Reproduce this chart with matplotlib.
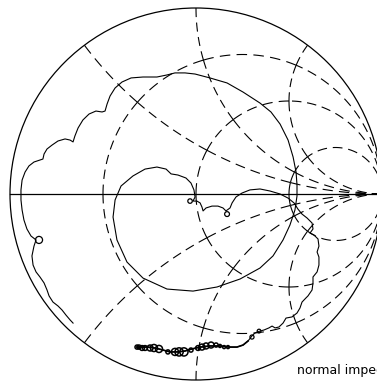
import numpy as np
import matplotlib
matplotlib.use('Agg')
import matplotlib.pyplot as plt
from matplotlib.patches import Circle

# ─── GRID VALUES (normalised resistance / reactance) ─────────────────────
R_VALUES = [1/3, 1.0, 3.0]
X_VALUES = [0.5, 1.0, 2.0]

# ─── MEASURED LOCUS (reflection coefficient, real / imag) ────────────────
gamma_re = [-0.661, -0.677, -0.699, -0.720, -0.742, -0.769, -0.790, -0.801, -0.817, -0.839,
            -0.860, -0.876, -0.882, -0.871, -0.860, -0.887, -0.909, -0.925, -0.935, -0.941,
            -0.941, -0.935, -0.919, -0.898, -0.871, -0.839, -0.823, -0.817, -0.801, -0.774,
            -0.742, -0.704, -0.677, -0.661, -0.651, -0.634, -0.608, -0.575, -0.538, -0.505,
            -0.489, -0.478, -0.462, -0.435, -0.398, -0.349, -0.285, -0.210, -0.156, -0.113,
            -0.059, -0.005, 0.075, 0.167, 0.253, 0.344, 0.403, 0.452, 0.495, 0.522,
            0.538, 0.543, 0.543, 0.532, 0.505, 0.468, 0.414, 0.344, 0.237, 0.113,
            -0.016, -0.156, -0.285, -0.371, -0.425, -0.446, -0.435, -0.403, -0.339, -0.274,
            -0.210, -0.161, -0.134, -0.097, -0.054, -0.027, -0.011, -0.005, -0.016, 0.005,
            0.022, 0.032, 0.038, 0.054, 0.086, 0.118, 0.145, 0.161, 0.183, 0.194,
            0.215, 0.247, 0.290, 0.344, 0.398, 0.452, 0.495, 0.527, 0.548, 0.570,
            0.597, 0.624, 0.629, 0.613, 0.634, 0.656, 0.661, 0.651, 0.661, 0.661,
            0.651, 0.629, 0.629, 0.624, 0.602, 0.591, 0.570, 0.559, 0.543, 0.516,
            0.484, 0.468, 0.446, 0.425, 0.409, 0.392, 0.366, 0.344, 0.317, 0.301,
            0.280, 0.253, 0.220, 0.183, 0.129, 0.075, 0.022, -0.022, -0.059, -0.097,
            -0.140, -0.177, -0.220, -0.258, -0.317]
gamma_im = [-0.694, -0.677, -0.651, -0.624, -0.602, -0.581, -0.548, -0.516, -0.478, -0.446,
            -0.419, -0.382, -0.333, -0.280, -0.247, -0.226, -0.188, -0.140, -0.086, -0.032,
            0.022, 0.075, 0.118, 0.151, 0.172, 0.183, 0.188, 0.215, 0.242, 0.263,
            0.285, 0.296, 0.290, 0.280, 0.312, 0.355, 0.398, 0.430, 0.446, 0.441,
            0.446, 0.484, 0.527, 0.570, 0.602, 0.624, 0.629, 0.629, 0.640, 0.651,
            0.651, 0.645, 0.624, 0.597, 0.548, 0.489, 0.441, 0.376, 0.290, 0.199,
            0.118, 0.048, -0.011, -0.086, -0.167, -0.247, -0.333, -0.398, -0.457, -0.500,
            -0.522, -0.511, -0.452, -0.366, -0.247, -0.124, -0.032, 0.043, 0.097, 0.134,
            0.145, 0.134, 0.108, 0.102, 0.086, 0.059, 0.022, -0.016, -0.038, -0.038,
            -0.048, -0.070, -0.091, -0.075, -0.065, -0.065, -0.075, -0.091, -0.075, -0.048,
            -0.016, 0.005, 0.022, 0.027, 0.016, 0.000, -0.022, -0.048, -0.081, -0.108,
            -0.129, -0.156, -0.188, -0.210, -0.220, -0.242, -0.280, -0.312, -0.339, -0.382,
            -0.419, -0.446, -0.478, -0.516, -0.548, -0.559, -0.581, -0.613, -0.640, -0.661,
            -0.667, -0.694, -0.715, -0.720, -0.710, -0.720, -0.731, -0.737, -0.747, -0.763,
            -0.790, -0.812, -0.823, -0.823, -0.817, -0.817, -0.823, -0.833, -0.844, -0.849,
            -0.849, -0.839, -0.828, -0.823, -0.823]

# small resonance loops along the locus: centre and radius
loop_re = [-0.844, -0.032, 0.167, 0.339, 0.301,
           0.172, 0.151, 0.129, 0.108, 0.081, 0.054, 0.032, 0.011, -0.027,
           -0.065, -0.091, -0.113, -0.151, -0.199, -0.226, -0.247,
           -0.274, -0.290, -0.306, -0.317]
loop_im = [-0.247, -0.038, -0.108, -0.737, -0.769,
           -0.823, -0.823, -0.817, -0.812, -0.812, -0.817, -0.823, -0.828, -0.839,
           -0.849, -0.849, -0.849, -0.849, -0.833, -0.828, -0.828,
           -0.828, -0.828, -0.823, -0.823]
loop_rad = [0.019, 0.012, 0.013, 0.010, 0.011,
            0.008, 0.008, 0.008, 0.011, 0.016, 0.016, 0.016, 0.013, 0.011,
            0.022, 0.022, 0.019, 0.011, 0.019, 0.019, 0.016,
            0.013, 0.013, 0.011, 0.011]

LABEL = "normal impedance"

PX_PER_UNIT = 186.0      # figure pixels per unit of |Gamma|
DASH_PX, GAP_PX = 10.0, 6.0
GRID_LW = 0.8


def gamma(z):
    return (z - 1) / (z + 1)


def dashed_arc(ax, centre, rad, a, b):
    # stretch the dash pattern so the arc both starts and ends on a dash,
    # which leaves a small solid cross at every grid crossing
    length = abs(b - a) * rad * PX_PER_UNIT
    phi = np.linspace(a, b, 120)
    pts = centre + rad * np.exp(1j * phi)
    n = int(round((length - DASH_PX) / (DASH_PX + GAP_PX)))
    if n < 1:
        ax.plot(pts.real, pts.imag, color='black', lw=GRID_LW, solid_capstyle='butt')
        return
    k = length / (n * (DASH_PX + GAP_PX) + DASH_PX)
    to_lw = 0.72 / GRID_LW
    ax.plot(pts.real, pts.imag, color='black', lw=GRID_LW,
            dashes=(DASH_PX * k * to_lw, GAP_PX * k * to_lw), dash_capstyle='butt')


fig = plt.figure(figsize=(3.77, 3.85), dpi=100)
ax = fig.add_axes([0, 0, 1, 1])
ax.set_xlim(-196 / PX_PER_UNIT, 181 / PX_PER_UNIT)
ax.set_ylim(-191 / PX_PER_UNIT, 194 / PX_PER_UNIT)
ax.axis('off')

# ─── constant resistance circles ──────────────────────────────────────────
xs = sorted([v for v in X_VALUES] + [-v for v in X_VALUES] + [0.0], reverse=True)
for r in R_VALUES:
    c = r / (1 + r)
    rad = 1 / (1 + r)
    angs = [0.0]
    for x in xs:
        angs.append(np.mod(np.angle(gamma(r + 1j * x) - c), 2 * np.pi))
    angs.append(2 * np.pi)
    for a, b in zip(angs[:-1], angs[1:]):
        dashed_arc(ax, c, rad, a, b)

# ─── constant reactance arcs ──────────────────────────────────────────────
rs = [0.0] + R_VALUES
for x in X_VALUES:
    for sgn in (1, -1):
        c = 1 + 1j * sgn / x
        rad = 1 / x
        angs = [np.mod(np.angle(gamma(r + 1j * sgn * x) - c), 2 * np.pi) for r in rs]
        angs.append(np.pi * 1.5 if sgn > 0 else np.pi * 0.5)
        for a, b in zip(angs[:-1], angs[1:]):
            dashed_arc(ax, c, rad, a, b)

# ─── outer boundary and real axis ─────────────────────────────────────────
ax.add_patch(Circle((0, 0), 1, fill=False, lw=0.9, color='black'))
ax.plot([-1, 1], [0, 0], color='black', lw=0.9)

# ─── impedance locus ──────────────────────────────────────────────────────
ax.plot(gamma_re, gamma_im, color='black', lw=0.8, solid_joinstyle='round')
# the high-frequency tail along the bottom is drawn a bit heavier
ax.plot(gamma_re[-15:], gamma_im[-15:], color='black', lw=1.2, solid_joinstyle='round')
for u, v, rr in zip(loop_re, loop_im, loop_rad):
    ax.add_patch(Circle((u, v), rr, fill=False, lw=1.1 if v < -0.8 else 0.9,
                        color='black'))

fig.text(297 / 377, 11 / 385, LABEL, fontsize=9, color='black',
         ha='left', va='baseline')

fig.savefig('out.png', dpi=100)
